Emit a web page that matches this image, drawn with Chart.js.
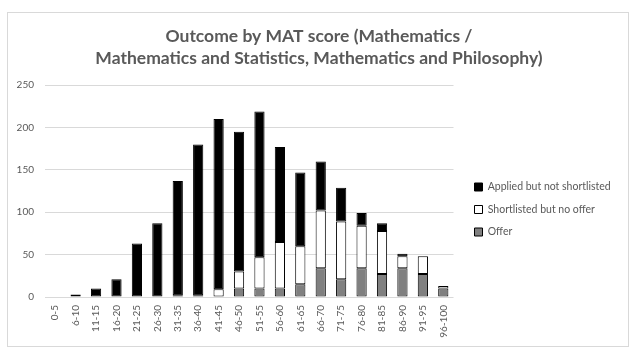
<!DOCTYPE html>
<html>
<head>
<meta charset="utf-8">
<script src="https://cdn.jsdelivr.net/npm/chart.js@4/dist/chart.umd.min.js"></script>
<style>
  html, body { margin: 0; padding: 0; background: #fff; }
  #wrap { position: relative; width: 639px; height: 354px; }
  #frame { position: absolute; left: 7px; top: 12px; width: 622px; height: 335px; border: 1px solid #d9d9d9; box-sizing: border-box; }
  #chart { position: absolute; left: 0; top: 0; }
</style>
</head>
<body>
<div id="wrap">
  <div id="frame"></div>
  <canvas id="chart" width="639" height="354"></canvas>
</div>
<script>
// Score bands on the x axis
const scoreBands = ['0-5', '6-10', '11-15', '16-20', '21-25', '26-30', '31-35', '36-40', '41-45', '46-50',
  '51-55', '56-60', '61-65', '66-70', '71-75', '76-80', '81-85', '86-90', '91-95', '96-100'];

// Counts per outcome
const offer       = [0, 0, 0, 0, 0, 0, 0, 0, 0, 10, 10, 10, 15, 34, 21, 34, 27, 34, 27, 10];
const shortlisted = [0, 0, 0, 0, 0, 0, 2, 2, 9, 20, 37, 55, 45, 68, 68, 50, 51, 14, 21, 3];
const applied     = [0, 3, 10, 21, 63, 87, 135, 178, 201, 165, 172, 112, 87, 58, 40, 15, 9, 3, 0, 0];

const titleLines = ['Outcome by MAT score (Mathematics /', 'Mathematics and Statistics, Mathematics and Philosophy)'];

const textColor = '#595959';
const gridColor = '#d9d9d9';

// Move legend and title boxes to where the reference has them
const boxNudge = {
  id: 'boxNudge',
  afterLayout(chart, args, opts) {
    const shift = (box, d) => {
      if (!box || !d) return;
      box.left += d.x; box.right += d.x;
      box.top += d.y; box.bottom += d.y;
    };
    shift(chart.legend, opts.legend);
    shift(chart.titleBlock, opts.title);
  }
};

function makeSet(label, data, fill) {
  return {
    label: label,
    data: data,
    backgroundColor: fill,
    borderColor: '#000',
    borderWidth: 1,
    borderSkipped: false,
    categoryPercentage: 1,
    barPercentage: 0.5
  };
}

const ctx = document.getElementById('chart').getContext('2d');
new Chart(ctx, {
  type: 'bar',
  data: {
    labels: scoreBands,
    datasets: [
      makeSet('Offer', offer, '#808080'),
      makeSet('Shortlisted but no offer', shortlisted, '#ffffff'),
      makeSet('Applied but not shortlisted', applied, '#000000')
    ]
  },
  plugins: [boxNudge],
  options: {
    responsive: false,
    animation: false,
    layout: { padding: { left: 8, right: 37, top: 12, bottom: 9 } },
    scales: {
      x: {
        stacked: true,
        grid: { display: false, drawTicks: false },
        border: { display: false },
        ticks: {
          autoSkip: false, maxRotation: 90, minRotation: 90, padding: 8,
          color: textColor, font: { family: 'Lato', size: 10 }
        },
        afterFit(scale) { scale.height = 48; }
      },
      y: {
        stacked: true,
        min: 0, max: 250,
        grid: { color: gridColor, drawTicks: false },
        border: { display: false },
        ticks: {
          stepSize: 50, padding: 11,
          color: textColor, font: { family: 'Lato', size: 10 }
        },
        afterFit(scale) { scale.width = 37; }
      }
    },
    plugins: {
      title: {
        display: true,
        text: titleLines,
        color: textColor,
        font: { family: 'Lato', size: 17.5, weight: 'bold', lineHeight: 1.26 },
        padding: { top: 13, bottom: 16 }
      },
      legend: {
        position: 'right',
        reverse: true,
        labels: {
          boxWidth: 8, boxHeight: 8, padding: 12,
          color: textColor, font: { family: 'Lato', size: 10.5 }
        }
      },
      tooltip: { enabled: false },
      boxNudge: { legend: { x: 9, y: 31 }, title: { x: 14, y: 0 } }
    }
  }
});
</script>
</body>
</html>
